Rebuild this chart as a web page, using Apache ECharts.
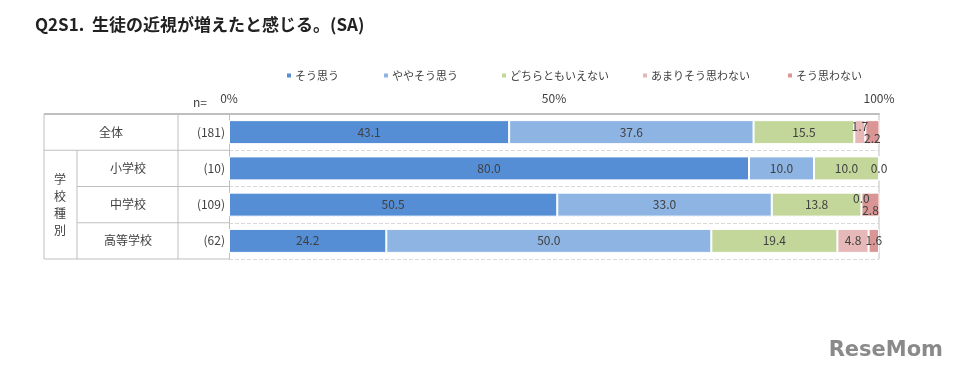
<!DOCTYPE html>
<html>
<head>
<meta charset="utf-8">
<script src="https://cdn.jsdelivr.net/npm/echarts@6/dist/echarts.min.js"></script>
<style>
  html, body { margin: 0; background: #fff; }
  #main { width: 955px; height: 376px; }
</style>
</head>
<body>
<div id="main"></div>
<script>
// 行ラベル
const categories = ["全体", "小学校", "中学校", "高等学校"];
const nCounts = ["(181)", "(10)", "(109)", "(62)"];
const seriesNames = ["そう思う", "ややそう思う", "どちらともいえない", "あまりそう思わない", "そう思わない"];
const xTicks = [0, 50, 100];

// 値 (%)
const souOmou = [43.1, 80.0, 50.5, 24.2];
const yayaSouOmou = [37.6, 10.0, 33.0, 50.0];
const dochiraTomo = [15.5, 10.0, 13.8, 19.4];
const amariOmowanai = [1.7, 0.0, 0.0, 4.8];
const souOmowanai = [2.2, 0.0, 2.8, 1.6];

const colors = ["#558ed5", "#8db4e2", "#c4d79b", "#e6b9b8", "#da9694"];
const FONT = "Noto Sans CJK JP";

// グリッド
const G = { left: 229, right: 76, top: 114, bottom: 117 };
const W = 955, H = 376;
const gx1 = G.left, gx2 = W - G.right, gy1 = G.top, gy2 = H - G.bottom;
const rowH = (gy2 - gy1) / categories.length;

// 小さい値のラベルずらし / 重なる0.0は1つだけ
const labelShift = {
  3: { 0: [0, -6], 2: [0, -6] },
  4: { 0: [0, 6], 2: [0, 6] }
};
const labelHide = { 3: [1] };

const allValues = [souOmou, yayaSouOmou, dochiraTomo, amariOmowanai, souOmowanai];

const series = allValues.map((vals, si) => ({
  name: seriesNames[si],
  type: "bar",
  stack: "total",
  barWidth: 24,
  itemStyle: { color: colors[si], borderColor: "#fff", borderWidth: 1 },
  label: {
    show: true,
    position: "inside",
    color: "#404040",
    fontSize: 12,
    fontFamily: FONT,
    formatter: p => p.value.toFixed(1)
  },
  data: vals.map((v, i) => {
    const off = labelShift[si] && labelShift[si][i];
    if (labelHide[si] && labelHide[si].includes(i)) return { value: v, label: { show: false } };
    return off ? { value: v, label: { offset: off } } : v;
  })
}));

// 凡例は Excel 風に個別配置
const legendLeft = [280, 377, 495, 636, 781];
const legends = seriesNames.map((n, i) => ({
  left: legendLeft[i],
  top: 65,
  itemWidth: 6,
  itemHeight: 6,
  itemGap: 0,
  icon: "rect",
  selectedMode: false,
  textStyle: { fontFamily: FONT, fontSize: 11, color: "#404040", padding: [0, 0, 0, -2] },
  data: [n]
}));

const line = (x1, y1, x2, y2, w) => ({
  type: "line",
  shape: { x1, y1, x2, y2 },
  style: { stroke: "#bfbfbf", lineWidth: w || 1 },
  silent: true
});

const tableLines = [
  line(44, gy1, gx1, gy1, 2),
  line(44, gy1 + rowH, gx1, gy1 + rowH),
  line(77, gy1 + rowH * 2, gx1, gy1 + rowH * 2),
  line(77, gy1 + rowH * 3, gx1, gy1 + rowH * 3),
  line(44, gy2, gx1, gy2),
  line(44, gy1, 44, gy2),
  line(77, gy1 + rowH, 77, gy2),
  line(178, gy1, 178, gy2),
  line(gx2, gy1, gx2, gy2)
];

const chart = echarts.init(document.getElementById("main"));
chart.setOption({
  backgroundColor: "#fff",
  animation: false,
  color: colors,
  title: {
    text: "Q2S1.  生徒の近視が増えたと感じる。(SA)",
    left: 30,
    top: 11,
    textStyle: { fontFamily: FONT, fontSize: 17, fontWeight: "bold", color: "#222" }
  },
  legend: legends,
  grid: { left: G.left, right: G.right, top: G.top, bottom: G.bottom },
  xAxis: {
    type: "value",
    position: "top",
    min: 0,
    max: 100,
    interval: 50,
    axisLine: { show: true, lineStyle: { color: "#bfbfbf", width: 2 } },
    axisTick: { show: false },
    splitLine: { show: false },
    axisLabel: {
      margin: 10,
      fontFamily: FONT,
      fontSize: 12,
      color: "#404040",
      formatter: v => (xTicks.includes(v) ? v + "%" : "")
    }
  },
  yAxis: [
    {
      type: "category",
      data: nCounts,
      inverse: true,
      axisLine: { show: true, lineStyle: { color: "#bfbfbf" } },
      axisTick: { show: false },
      splitLine: { show: true, lineStyle: { color: "#d9d9d9", type: "dashed" } },
      axisLabel: { margin: 4, fontFamily: FONT, fontSize: 12, color: "#404040" }
    },
    {
      type: "category",
      data: categories,
      inverse: true,
      position: "left",
      axisLine: { show: false },
      axisTick: { show: false },
      axisLabel: {
        margin: 101,
        align: "center",
        fontFamily: FONT,
        fontSize: 12,
        color: "#404040",
        formatter: (v, i) => (i === 0 ? "{w|" + v + "}" : v),
        rich: { w: { padding: [0, 34, 0, 0], fontFamily: FONT, fontSize: 12, color: "#404040" } }
      }
    }
  ],
  series: series,
  graphic: tableLines.concat([
    {
      type: "text",
      left: 54,
      top: gy1 + rowH + (gy2 - gy1 - rowH) / 2 - 34,
      style: { text: "学\n校\n種\n別", fontFamily: FONT, fontSize: 12, lineHeight: 17, fill: "#404040" }
    },
    {
      type: "text",
      left: 193,
      top: 96,
      style: { text: "n=", fontFamily: FONT, fontSize: 12, fill: "#404040" }
    },
    {
      type: "text",
      right: 12,
      top: 340,
      style: { text: "ReseMom", fontFamily: "DejaVu Sans", fontSize: 21, fontWeight: "bold", fill: "#8a8a8a" }
    }
  ])
});
</script>
</body>
</html>
